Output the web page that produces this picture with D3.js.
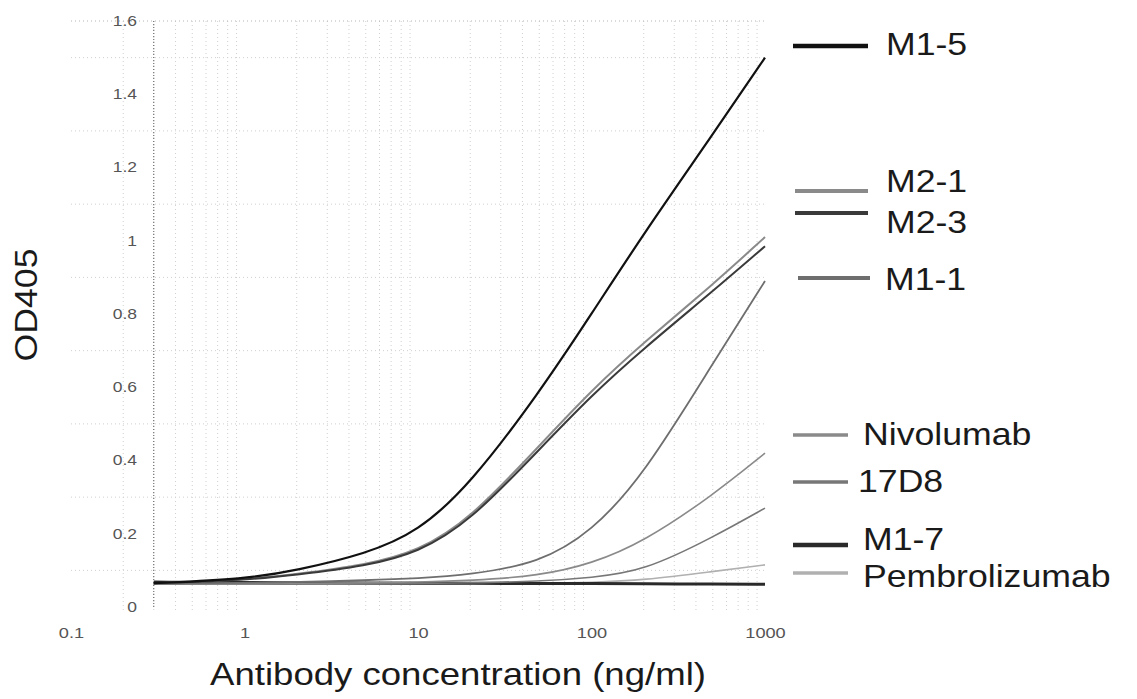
<!DOCTYPE html>
<html>
<head>
<meta charset="utf-8">
<title>OD405 vs antibody concentration</title>
<style>
    body { margin: 0; background: #fff; }
    svg { display: block; font-family: Arial, "Liberation Sans", sans-serif; }
    .grid line { stroke: #b5b5b5; stroke-width: 1; stroke-dasharray: 1 3; }
    .grid line.minor { stroke: #d0d0d0; }
    .tick-label { fill: #555; font-size: 14px; }
    .title { fill: #1a1a1a; font-size: 31px; }
    .legend text { fill: #1a1a1a; font-size: 31px; }
</style>
<script src="https://cdn.jsdelivr.net/npm/d3@7"></script>
</head>
<body>
<svg id="chart" width="1137" height="699"></svg>
<script>
var conc = [0.3, 1, 2, 5, 10, 20, 50, 100, 200, 500, 1000];

var seriesNames = ["M1-5", "M2-1", "M2-3", "M1-1", "Nivolumab", "17D8", "M1-7", "Pembrolizumab"];

var m1_5  = [0.065, 0.076, 0.100, 0.145, 0.205, 0.335, 0.585, 0.800, 1.020, 1.290, 1.500];
var m2_1  = [0.065, 0.074, 0.090, 0.115, 0.152, 0.240, 0.440, 0.592, 0.722, 0.880, 1.010];
var m2_3  = [0.065, 0.073, 0.088, 0.112, 0.148, 0.234, 0.430, 0.578, 0.706, 0.862, 0.985];
var m1_1  = [0.064, 0.066, 0.068, 0.073, 0.078, 0.088, 0.120, 0.205, 0.360, 0.665, 0.890];
var nivo  = [0.063, 0.064, 0.065, 0.066, 0.068, 0.072, 0.085, 0.118, 0.178, 0.305, 0.420];
var d17d8 = [0.062, 0.063, 0.063, 0.064, 0.064, 0.066, 0.070, 0.080, 0.098, 0.190, 0.270];
var m1_7  = [0.068, 0.067, 0.066, 0.066, 0.065, 0.065, 0.064, 0.064, 0.063, 0.063, 0.062];
var pembro = [0.062, 0.062, 0.062, 0.063, 0.063, 0.064, 0.065, 0.067, 0.073, 0.097, 0.115];

var seriesValues = [m1_5, m2_1, m2_3, m1_1, nivo, d17d8, m1_7, pembro];

var xTicks = [0.1, 1, 10, 100, 1000];
var xTickText = ["0.1", "1", "10", "100", "1000"];
var yTicks = [0, 0.2, 0.4, 0.6, 0.8, 1, 1.2, 1.4, 1.6];
var yTickText = ["0", "0.2", "0.4", "0.6", "0.8", "1", "1.2", "1.4", "1.6"];

// look of each series
var lineStyle = [
    {color: "#111", width: 2.2, legendWidth: 4.5},
    {color: "#8a8a8a", width: 2, legendWidth: 4},
    {color: "#3a3a3a", width: 2, legendWidth: 4},
    {color: "#6e6e6e", width: 1.8, legendWidth: 4},
    {color: "#8a8a8a", width: 1.6, legendWidth: 3.5},
    {color: "#777", width: 1.6, legendWidth: 3.5},
    {color: "#2a2a2a", width: 3, legendWidth: 4.5},
    {color: "#b0b0b0", width: 1.6, legendWidth: 3.5}
];

// legend layout: line y, text baseline y, line x range, text x
var legendLayout = [
    {ly: 46,  ty: 55,  x0: 793, x1: 868, tx: 886},
    {ly: 191, ty: 192, x0: 795, x1: 868, tx: 886},
    {ly: 213, ty: 233, x0: 795, x1: 868, tx: 886},
    {ly: 278, ty: 290, x0: 798, x1: 870, tx: 885},
    {ly: 435, ty: 445, x0: 793, x1: 848, tx: 863},
    {ly: 482, ty: 492, x0: 793, x1: 848, tx: 858},
    {ly: 545, ty: 550, x0: 793, x1: 848, tx: 863},
    {ly: 573, ty: 587, x0: 793, x1: 848, tx: 863}
];

var svg = d3.select("#chart");

var x = d3.scaleLog().domain([0.1, 1000]).range([71, 765]);
var y = d3.scaleLinear().domain([0, 1.6]).range([607, 21]);

// grid
var grid = svg.append("g").attr("class", "grid");

var minorX = [];
[0.1, 1, 10, 100].forEach(function(d) {
    for (var k = 2; k < 10; k++) minorX.push(d * k);
});

grid.selectAll("line.minor.vx")
    .data(minorX)
    .enter()
    .append("line")
    .attr("class", "minor vx")
    .attr("x1", function(d) { return x(d); })
    .attr("x2", function(d) { return x(d); })
    .attr("y1", y(1.6))
    .attr("y2", y(0) + 6);

grid.selectAll("line.vx")
    .data(xTicks)
    .enter()
    .append("line")
    .attr("class", "vx")
    .attr("x1", function(d) { return x(d); })
    .attr("x2", function(d) { return x(d); })
    .attr("y1", y(1.6))
    .attr("y2", y(0) + 6);

grid.selectAll("line.minor.hy")
    .data(d3.range(0.1, 1.6, 0.2))
    .enter()
    .append("line")
    .attr("class", "minor hy")
    .attr("x1", x(0.1))
    .attr("x2", x(1000))
    .attr("y1", function(d) { return y(d); })
    .attr("y2", function(d) { return y(d); });

grid.selectAll("line.hy")
    .data(yTicks)
    .enter()
    .append("line")
    .attr("class", "hy")
    .attr("x1", x(0.1))
    .attr("x2", x(1000))
    .attr("y1", function(d) { return y(d); })
    .attr("y2", function(d) { return y(d); });

// dotted left line where the data starts
svg.append("line")
    .attr("x1", x(conc[0]))
    .attr("x2", x(conc[0]))
    .attr("y1", y(1.6))
    .attr("y2", y(0))
    .attr("stroke", "#555")
    .attr("stroke-width", 1)
    .attr("stroke-dasharray", "1 2");

// axes (labels only)
var xAxis = d3.axisBottom(x)
    .tickValues(xTicks)
    .tickSize(0)
    .tickPadding(0)
    .tickFormat(function(d, i) { return xTickText[i]; });

var gx = svg.append("g")
    .attr("transform", "translate(0," + y(0) + ")")
    .call(xAxis);
gx.select(".domain").remove();
gx.selectAll("text")
    .attr("class", "tick-label")
    .attr("fill", null)
    .attr("font-size", null)
    .attr("font-family", null)
    .attr("y", 0)
    .attr("dy", null)
    .attr("transform", "translate(0,31) scale(1.3,1)");

var yAxis = d3.axisLeft(y)
    .tickValues(yTicks)
    .tickSize(0)
    .tickPadding(0)
    .tickFormat(function(d, i) { return yTickText[i]; });

var gy = svg.append("g")
    .attr("transform", "translate(137,0)")
    .call(yAxis);
gy.select(".domain").remove();
gy.selectAll("text")
    .attr("class", "tick-label")
    .attr("fill", null)
    .attr("font-size", null)
    .attr("font-family", null)
    .attr("x", 0)
    .attr("transform", "scale(1.25,1)");

// curves
var line = d3.line()
    .x(function(d) { return x(d[0]); })
    .y(function(d) { return y(d[1]); })
    .curve(d3.curveBasis);

var drawOrder = [7, 6, 5, 4, 3, 1, 2, 0];

svg.append("g")
    .selectAll("path")
    .data(drawOrder)
    .enter()
    .append("path")
    .attr("fill", "none")
    .attr("stroke", function(i) { return lineStyle[i].color; })
    .attr("stroke-width", function(i) { return lineStyle[i].width; })
    .attr("d", function(i) {
        return line(conc.map(function(c, j) { return [c, seriesValues[i][j]]; }));
    });

// legend
var legend = svg.append("g").attr("class", "legend");

legend.selectAll("line")
    .data(seriesNames)
    .enter()
    .append("line")
    .attr("x1", function(d, i) { return legendLayout[i].x0; })
    .attr("x2", function(d, i) { return legendLayout[i].x1; })
    .attr("y1", function(d, i) { return legendLayout[i].ly; })
    .attr("y2", function(d, i) { return legendLayout[i].ly; })
    .attr("stroke", function(d, i) { return lineStyle[i].color; })
    .attr("stroke-width", function(d, i) { return lineStyle[i].legendWidth; });

legend.selectAll("text")
    .data(seriesNames)
    .enter()
    .append("text")
    .attr("transform", function(d, i) {
        return "translate(" + legendLayout[i].tx + "," + legendLayout[i].ty + ") scale(1.15,1)";
    })
    .text(function(d) { return d; });

// axis titles
svg.append("text")
    .attr("class", "title")
    .attr("text-anchor", "middle")
    .attr("transform", "translate(458,685) scale(1.18,1)")
    .text("Antibody concentration (ng/ml)");

svg.append("text")
    .attr("class", "title")
    .attr("text-anchor", "middle")
    .attr("transform", "translate(37,305) rotate(-90) scale(1.15,1)")
    .text("OD405");
</script>
</body>
</html>
